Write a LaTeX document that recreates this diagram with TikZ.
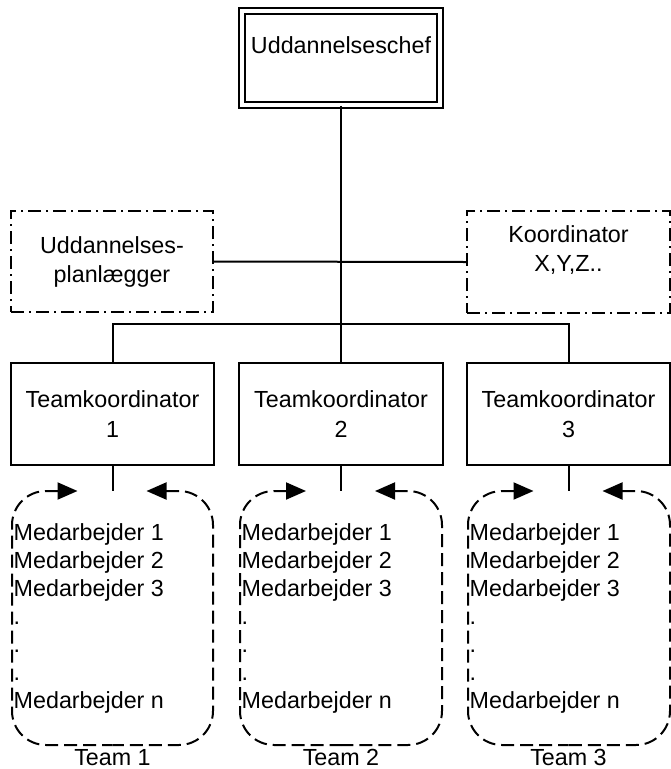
\documentclass[tikz,border=0pt]{standalone}
\usepackage{fontspec}
\setmainfont{Liberation Sans}
\usetikzlibrary{arrows.meta}
\begin{document}
\begin{tikzpicture}[x=1pt,y=-1pt,
  lbl/.style={font=\fontsize{23.3}{29}\selectfont, inner sep=0pt},
  solidbox/.style={draw, line width=2pt, inner sep=0pt, align=center,
     font=\fontsize{23.3}{30}\selectfont},
  ddbox/.style={draw, line width=2.2pt, inner sep=0pt,
     dash pattern=on 13pt off 5pt on 2pt off 5pt},
  conn/.style={line width=2pt},
  loopst/.style={line width=2pt, dash pattern=on 13pt off 6pt, rounded corners=34pt},
  tip/.style={{Triangle[length=20pt,width=17pt]}-},
  members/.style={font=\fontsize{23.3}{28}\selectfont, inner sep=0pt, align=left, anchor=north west}
]
\useasboundingbox (0,0) rectangle (671,769);

% top box
\node[draw, line width=1.8pt, double, double distance=4.2pt, inner sep=0pt,
      minimum width=198pt, minimum height=94pt] (chef) at (341,58) {};
\node[lbl, anchor=base] (cheft) at (341,53) {Uddannelseschef};

% staff boxes
\node[ddbox, minimum width=202pt, minimum height=101pt, align=center, lbl] (plan) at (112,261.5)
  {Uddannelses-\\planlægger};
\node[ddbox, minimum width=203pt, minimum height=102pt] (koord) at (568.5,262) {};
\node[lbl, align=center, anchor=north] (koordt) at (568.5,225) {Koordinator\\X,Y,Z..};

% team coordinators
\node[solidbox, minimum width=203pt, minimum height=102pt] (tk1) at (112.5,414) {Teamkoordinator\\1};
\node[solidbox, minimum width=204pt, minimum height=102pt] (tk2) at (341,414) {Teamkoordinator\\2};
\node[solidbox, minimum width=203pt, minimum height=102pt] (tk3) at (568.5,414) {Teamkoordinator\\3};

% connectors
\draw[conn] (chef.south) -- (tk2.north);
\draw[conn] (plan.east) -- (koord.west);
\draw[conn] (tk1.north) -- ++(0,-38) -| (tk3.north);

% team loops
\foreach \cx/\L/\R/\n in {112.5/12/213/1, 341/240/442/2, 568.5/468/670/3}{
  \coordinate (top\n) at (\cx,491);
  \draw[conn] (tk\n.south) -- (top\n);
  \coordinate (la\n) at (\cx-35,491);
  \coordinate (ra\n) at (\cx+34,491);
  \coordinate (lt\n) at (\L,491);
  \coordinate (rt\n) at (\R,491);
  \coordinate (lb\n) at (\L,745);
  \coordinate (rb\n) at (\R,745);
  \coordinate (bm\n) at (\cx,745);
  \draw[loopst, tip] (la\n) -- (lt\n) -- (lb\n) -- (bm\n);
  \draw[loopst, tip] (ra\n) -- (rt\n) -- (rb\n) -- (bm\n);
  \node[members] (m\n) at (\L+1.5,523)
    {Medarbejder 1\\Medarbejder 2\\Medarbejder 3\\.\\.\\.\\Medarbejder n};
  \node[lbl, anchor=base] (team\n) at (\cx,765) {Team \n};
}
\end{tikzpicture}
\end{document}
